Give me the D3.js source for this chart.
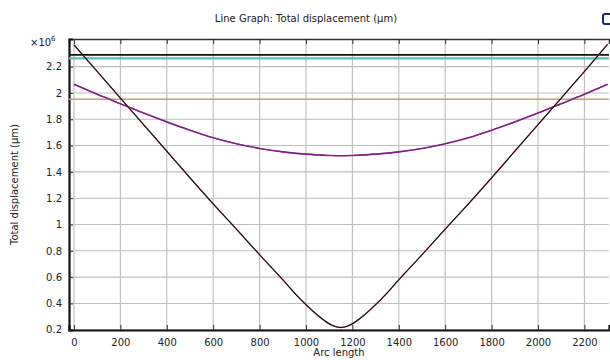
<!DOCTYPE html>
<html>
<head>
<meta charset="utf-8">
<script src="https://cdn.jsdelivr.net/npm/d3@7/dist/d3.min.js"></script>
<style>
	body { margin: 0; background: #fff; }
	svg text { font-family: "DejaVu Sans", sans-serif; fill: #222; }
</style>
</head>
<body>
<svg id="chart" width="610" height="360"></svg>
<script>
// data (values in 1e6 µm)
var arcV = [0, 100, 200, 300, 400, 500, 600, 700, 800, 900, 950, 1000, 1050, 1100, 1125, 1150,
	1175, 1200, 1250, 1300, 1350, 1400, 1500, 1600, 1700, 1800, 1900, 2000, 2100, 2200, 2300]
var dispV = [2.365, 2.163, 1.961, 1.759, 1.557, 1.355, 1.157, 0.965, 0.77, 0.58, 0.48, 0.39, 0.31, 0.245, 0.225, 0.217,
	0.225, 0.245, 0.31, 0.39, 0.48, 0.58, 0.77, 0.965, 1.157, 1.355, 1.557, 1.759, 1.961, 2.163, 2.37]

var arcP = [0, 100, 200, 300, 400, 500, 600, 700, 800, 900, 1000, 1100, 1150,
	1200, 1300, 1400, 1500, 1600, 1700, 1800, 1900, 2000, 2100, 2200, 2300]
var dispP = [2.066, 1.99, 1.918, 1.847, 1.78, 1.717, 1.66, 1.614, 1.578, 1.552, 1.535, 1.525, 1.522,
	1.525, 1.535, 1.552, 1.578, 1.614, 1.66, 1.717, 1.78, 1.847, 1.918, 1.99, 2.066]

var levels = [2.289, 2.262, 1.952]
var levelColors = ["#111111", "#5bbcb8", "#c9a358"]

var xTicks = [0, 200, 400, 600, 800, 1000, 1200, 1400, 1600, 1800, 2000, 2200]
var yTicks = [0.2, 0.4, 0.6, 0.8, 1, 1.2, 1.4, 1.6, 1.8, 2, 2.2]

var svg = d3.select("#chart")
var pLeft = 69, pRight = 609, pTop = 39, pBottom = 330

var x = d3.scaleLinear().domain([-21.5, 2306]).range([pLeft, pRight])
var y = d3.scaleLinear().domain([0.198, 2.41]).range([pBottom, pTop])

// grid
var grid = svg.append("g").attr("class", "grid")
grid.selectAll(".vg").data(xTicks).enter().append("line")
	.attr("x1", function(d){ return x(d) }).attr("x2", function(d){ return x(d) })
	.attr("y1", pTop).attr("y2", pBottom)
	.attr("stroke", "#bdbdbd").attr("stroke-width", 1.1)
grid.selectAll(".hg").data(yTicks).enter().append("line")
	.attr("x1", pLeft).attr("x2", pRight)
	.attr("y1", function(d){ return y(d) }).attr("y2", function(d){ return y(d) })
	.attr("stroke", "#bdbdbd").attr("stroke-width", 1.1)

// axes (ticks pointing inward)
svg.append("g")
	.attr("transform", "translate(0," + pBottom + ")")
	.call(d3.axisBottom(x).tickValues(xTicks).tickSize(-5).tickPadding(9).tickFormat(d3.format("d")))
	.call(function(g){
		g.select(".domain").attr("stroke", "#111").attr("stroke-width", 2.2)
		g.selectAll("text").attr("font-size", 10).style("fill", "#222")
		g.selectAll(".tick line").attr("stroke", "#333")
	})
svg.append("g")
	.attr("transform", "translate(0," + pTop + ")")
	.call(d3.axisTop(x).tickValues(xTicks).tickSize(-5).tickFormat(""))
	.call(function(g){
		g.select(".domain").attr("stroke", "#333").attr("stroke-width", 1.6)
		g.selectAll(".tick line").attr("stroke", "#333")
	})
svg.append("g")
	.attr("transform", "translate(" + pLeft + ",0)")
	.call(d3.axisLeft(y).tickValues(yTicks).tickSize(-4).tickPadding(7).tickFormat(function(d){ return d3.format("~g")(d) }))
	.call(function(g){
		g.select(".domain").attr("stroke", "#111").attr("stroke-width", 2.2)
		g.selectAll("text").attr("font-size", 10).style("fill", "#222")
		g.selectAll(".tick line").attr("stroke", "#333")
	})

// clip to plot
svg.append("clipPath").attr("id", "plotclip").append("rect")
	.attr("x", pLeft).attr("y", pTop).attr("width", pRight - pLeft).attr("height", pBottom - pTop)
var plot = svg.append("g").attr("clip-path", "url(#plotclip)")

// horizontal level lines
plot.selectAll(".lvl").data(levels).enter().append("line")
	.attr("x1", x.range()[0]).attr("x2", x.range()[1])
	.attr("y1", function(d){ return y(d) }).attr("y2", function(d){ return y(d) })
	.attr("stroke", function(d, i){ return levelColors[i] })
	.attr("stroke-width", function(d, i){ return i == 1 ? 2.2 : 1.7 })

var line = d3.line()
	.x(function(d){ return x(d[0]) })
	.y(function(d){ return y(d[1]) })
	.curve(d3.curveCatmullRom)

var ptsP = d3.zip(arcP, dispP)
var ptsV = d3.zip(arcV, dispV)

plot.append("path").datum(ptsP).attr("d", line)
	.attr("fill", "none").attr("stroke", "#b8308e").attr("stroke-width", 1.6)
plot.append("path").datum(ptsP).attr("d", line)
	.attr("fill", "none").attr("stroke", "#6e2288").attr("stroke-width", 1.1)

plot.append("path").datum(ptsV).attr("d", line)
	.attr("fill", "none").attr("stroke", "#b05050").attr("stroke-width", 1.3)
plot.append("path").datum(ptsV).attr("d", line)
	.attr("fill", "none").attr("stroke", "#111").attr("stroke-width", 1.05)

// labels
svg.append("text").attr("x", 306).attr("y", 22).attr("text-anchor", "middle")
	.attr("font-size", 10).text("Line Graph: Total displacement (µm)")
svg.append("text").attr("x", (pLeft + pRight) / 2).attr("y", 356).attr("text-anchor", "middle")
	.attr("font-size", 10).text("Arc length")
svg.append("text").attr("transform", "translate(18," + ((pTop + pBottom) / 2) + ") rotate(-90)")
	.attr("text-anchor", "middle").attr("font-size", 10).text("Total displacement (µm)")
var mult = svg.append("text").attr("x", 30).attr("y", 46).attr("font-size", 10)
mult.append("tspan").text("×10")
mult.append("tspan").attr("font-size", 7).attr("dy", -5).text("6")

// clipped toolbar icon at top right
svg.append("rect").attr("x", 603).attr("y", 14).attr("width", 10).attr("height", 10).attr("rx", 2)
	.attr("fill", "#fff").attr("stroke", "#1a2a60").attr("stroke-width", 2)
</script>
</body>
</html>
